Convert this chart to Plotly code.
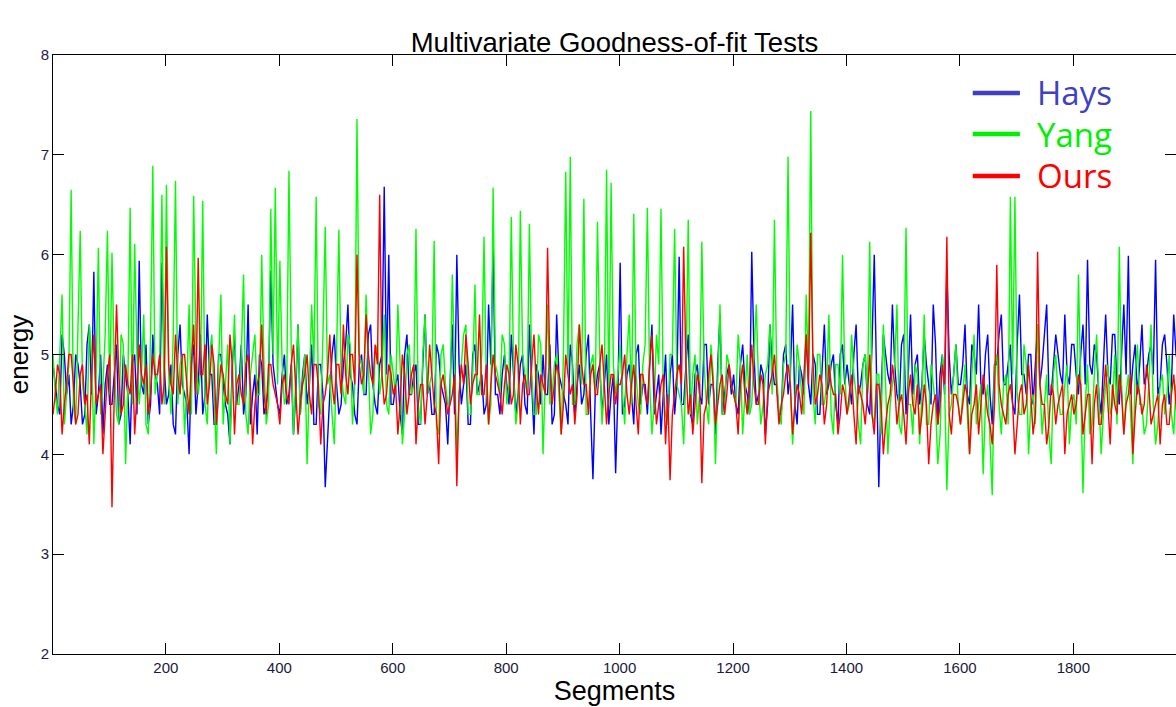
import plotly.graph_objects as go

# Samples: series A at segments 1, 9, 17, ... and series B at 5, 13, 21, ...
seg_a = list(range(1, 2000, 8))
seg_b = list(range(5, 2000, 8))

hays_a = [
    4.9, 4.5, 5.2, 4.6, 4.3, 5.0, 4.7, 4.4, 5.3, 5.83, 4.6, 4.2, 4.9, 4.5, 5.1, 4.4, 4.8, 4.1, 5.0, 5.94, 4.6, 4.3, 5.2, 4.7, 5.92,
    4.5, 4.9, 4.2, 5.3, 4.6, 4.0, 5.1, 4.7, 4.4, 5.4, 4.8, 4.3, 5.0, 4.5, 4.1, 5.2, 4.7, 4.4, 5.5, 4.6, 4.2, 4.9, 4.5, 5.84, 4.7,
    4.4, 5.0, 4.6, 4.2, 5.3, 4.8, 4.5, 5.1, 4.3, 4.9, 3.67, 4.6, 5.2, 4.4, 4.9, 5.5, 4.7, 4.3, 5.0, 4.6, 5.3, 4.5, 4.9, 6.68, 6.0,
    4.5, 4.8, 4.2, 5.2, 4.6, 4.9, 4.3, 5.4, 4.7, 4.4, 5.0, 4.6, 4.1, 5.3, 6.0, 4.5, 4.9, 4.3, 5.1, 4.7, 4.4, 5.5, 6.08, 4.6, 4.8,
    4.7, 5.2, 4.4, 4.9, 4.5, 5.3, 4.2, 4.8, 5.0, 4.6, 4.3, 5.4, 4.7, 4.5, 5.1, 4.4, 4.9, 4.6, 5.2, 3.75, 4.8, 4.4, 5.0, 4.6, 3.81,
    5.92, 4.5, 4.9, 4.3, 5.1, 4.7, 4.4, 5.3, 4.6, 4.2, 5.0, 4.8, 4.4, 5.98, 4.5, 5.2, 4.3, 4.9, 4.5, 5.1, 4.7, 4.2, 5.4, 4.6, 4.9,
    4.8, 4.4, 5.1, 4.6, 6.03, 4.5, 4.9, 4.2, 5.3, 4.7, 4.4, 5.0, 4.6, 5.5, 4.3, 4.8, 5.2, 4.5, 4.9, 4.4, 5.3, 4.7, 5.0, 4.3, 5.1,
    4.9, 4.5, 5.3, 4.7, 5.0, 4.4, 6.0, 3.67, 5.2, 4.8, 5.5, 4.6, 5.1, 4.4, 5.4, 4.9, 4.5, 5.2, 4.7, 5.5, 4.3, 5.0, 5.87, 4.6, 5.1,
    4.7, 5.3, 4.5, 5.0, 5.5, 4.6, 5.2, 4.3, 4.9, 5.4, 4.7, 5.1, 4.4, 5.6, 4.8, 5.0, 4.5, 5.3, 4.9, 5.5, 4.6, 5.2, 4.8, 5.4, 4.7,
    5.1, 4.6, 5.3, 5.95, 4.8, 5.0, 4.4, 5.4, 4.7, 5.2, 4.5, 5.5, 5.99, 4.9, 4.6, 5.3, 4.8, 5.1, 5.95, 4.7, 5.2, 4.5, 5.4, 4.9, 5.0,
]
hays_b = [
    4.7, 4.4, 5.0, 4.8, 4.5, 4.9, 4.3, 5.1, 4.6, 4.4, 5.0, 4.7, 4.5, 4.8, 4.3, 5.0, 4.6, 4.9, 4.4, 4.7, 5.1, 4.5, 4.8, 4.4, 4.9,
    4.6, 4.3, 5.0, 4.7, 4.5, 4.9, 4.4, 5.2, 4.6, 4.8, 4.3, 5.0, 4.7, 4.4, 4.9, 4.5, 5.1, 4.6, 4.3, 4.8, 5.0, 4.4, 4.7, 4.9, 4.5,
    4.8, 4.5, 4.9, 4.6, 4.4, 5.0, 4.7, 4.3, 4.9, 4.6, 4.2, 5.0, 4.7, 4.5, 5.1, 4.8, 4.4, 4.9, 4.6, 5.2, 4.7, 4.4, 5.0, 4.8, 4.5,
    4.7, 4.4, 5.0, 4.6, 4.8, 4.3, 4.9, 4.6, 4.4, 5.1, 4.7, 4.5, 4.8, 4.4, 4.9, 4.7, 4.3, 5.0, 4.6, 4.8, 4.5, 4.9, 4.6, 4.4, 5.0,
    4.5, 4.8, 4.6, 5.0, 4.4, 4.7, 4.9, 4.5, 4.6, 5.1, 4.4, 4.8, 4.6, 4.3, 4.9, 4.7, 4.5, 5.0, 4.4, 4.6, 4.9, 4.7, 4.3, 4.8, 4.6,
    4.4, 4.8, 4.6, 5.0, 4.5, 4.7, 4.9, 4.4, 4.8, 4.6, 4.3, 5.0, 4.7, 4.5, 4.9, 4.4, 4.8, 4.6, 5.1, 4.5, 4.7, 4.9, 4.4, 4.8, 4.6,
    4.5, 4.9, 4.7, 4.4, 5.0, 4.6, 4.8, 4.5, 4.9, 4.7, 4.4, 5.1, 4.8, 4.5, 4.9, 4.6, 4.7, 5.0, 4.4, 4.8, 4.6, 4.9, 4.5, 5.0, 4.7,
    4.7, 5.0, 4.6, 4.9, 4.5, 5.1, 4.8, 4.6, 5.0, 4.7, 4.9, 4.5, 5.2, 4.8, 4.6, 5.0, 4.7, 4.9, 4.5, 5.1, 4.8, 4.6, 5.0, 4.8, 4.7,
    4.9, 4.6, 5.1, 4.8, 4.7, 5.0, 4.6, 4.9, 5.2, 4.7, 4.9, 4.5, 5.1, 4.8, 4.6, 5.0, 4.9, 4.7, 5.2, 4.6, 4.9, 5.0, 4.7, 4.8, 5.1,
    4.8, 5.0, 4.7, 4.9, 5.1, 4.6, 4.9, 4.8, 5.2, 4.7, 5.0, 4.8, 4.6, 5.1, 4.9, 4.7, 5.0, 4.8, 4.6, 5.1, 4.9, 4.7, 5.0, 4.8, 4.9,
]

yang_a = [
    5.0, 4.4, 5.6, 4.6, 6.65, 4.3, 6.24, 4.5, 5.3, 4.1, 6.07, 4.7, 6.24, 6.02, 4.4, 5.2, 3.9, 6.47, 6.11, 4.5, 5.4, 4.2, 6.89, 4.8, 6.6,
    6.7, 4.4, 6.74, 4.9, 4.2, 5.5, 6.59, 4.6, 6.54, 4.3, 5.2, 4.0, 5.6, 4.7, 4.1, 5.4, 4.5, 5.8, 4.2, 5.0, 4.6, 6.0, 4.3, 6.46, 6.67,
    5.94, 4.5, 6.84, 4.2, 5.3, 4.7, 3.9, 5.5, 6.58, 4.4, 6.28, 4.8, 4.1, 6.25, 4.6, 5.2, 4.3, 7.36, 4.9, 5.6, 4.2, 5.0, 4.6, 5.4, 4.4,
    4.8, 5.5, 4.1, 5.0, 4.6, 6.26, 4.3, 5.4, 4.7, 6.14, 4.2, 5.1, 4.5, 5.8, 4.0, 4.9, 5.3, 4.4, 5.7, 4.6, 6.18, 4.3, 6.67, 4.8, 5.2,
    4.5, 6.38, 4.3, 6.44, 4.8, 6.31, 4.4, 5.2, 4.0, 5.5, 4.6, 5.0, 4.2, 6.83, 6.98, 4.5, 5.3, 6.56, 4.4, 5.0, 6.33, 4.3, 6.85, 6.72, 4.6,
    5.1, 4.3, 5.4, 6.41, 4.5, 4.9, 6.47, 4.2, 5.2, 6.46, 4.4, 5.0, 6.26, 4.6, 4.1, 6.35, 4.8, 4.3, 6.13, 4.5, 5.1, 3.9, 5.5, 4.4, 4.9,
    4.6, 5.2, 4.2, 5.0, 4.5, 5.5, 4.3, 4.8, 5.3, 6.35, 4.4, 4.9, 6.98, 4.1, 5.1, 4.6, 5.6, 7.44, 4.3, 5.0, 4.5, 5.4, 4.2, 4.9, 6.0,
    4.4, 5.2, 4.6, 4.1, 5.0, 6.13, 4.3, 4.8, 5.3, 4.0, 4.7, 5.5, 4.2, 6.27, 4.5, 4.9, 4.1, 5.4, 4.3, 4.7, 3.9, 5.0, 3.64, 4.5, 5.1,
    4.3, 4.9, 4.0, 5.2, 4.5, 3.8, 4.7, 3.59, 5.0, 4.2, 4.8, 6.58, 6.58, 4.4, 5.1, 4.0, 4.6, 5.3, 4.2, 4.8, 3.9, 5.0, 4.4, 4.7, 4.1,
    4.6, 5.8, 3.61, 4.9, 4.3, 5.2, 4.0, 4.7, 4.4, 5.0, 6.08, 4.2, 4.8, 3.9, 5.1, 4.5, 4.3, 5.3, 4.1, 4.7, 4.4, 5.0, 4.2, 4.6, 4.8,
]
yang_b = [
    4.6, 5.1, 4.3, 4.9, 4.5, 5.3, 4.7, 4.2, 5.0, 4.8, 4.4, 5.2, 4.6, 4.9, 4.3, 5.1, 4.7, 4.5, 5.0, 4.8, 4.3, 5.2, 4.6, 4.9, 4.5,
    4.8, 5.2, 4.5, 5.0, 4.7, 4.4, 5.1, 4.8, 4.5, 5.0, 4.6, 4.9, 4.3, 5.1, 4.7, 4.5, 5.0, 4.4, 4.8, 5.2, 4.6, 4.9, 4.5, 5.0, 4.7,
    4.9, 4.6, 5.1, 4.7, 4.4, 5.0, 4.6, 4.9, 4.5, 5.2, 4.7, 4.4, 5.0, 4.8, 4.5, 5.1, 4.7, 5.0, 4.6, 4.9, 4.4, 5.1, 4.8, 4.5, 5.0,
    4.6, 4.9, 4.4, 5.1, 4.7, 4.5, 5.0, 4.6, 4.8, 4.3, 5.0, 4.7, 4.5, 4.9, 4.6, 5.2, 4.4, 4.8, 4.6, 5.0, 4.7, 4.5, 4.9, 4.6, 5.1,
    4.7, 4.9, 4.5, 5.0, 4.6, 4.8, 4.4, 5.1, 4.7, 4.5, 4.9, 4.6, 5.0, 4.8, 4.5, 5.1, 4.7, 4.4, 4.9, 4.6, 5.0, 4.7, 4.5, 4.9, 4.8,
    4.6, 5.0, 4.5, 4.8, 4.4, 5.1, 4.7, 4.5, 4.9, 4.6, 4.3, 5.0, 4.7, 4.5, 4.8, 4.4, 5.0, 4.6, 4.9, 4.3, 4.8, 4.6, 4.4, 5.0, 4.7,
    4.5, 4.9, 4.6, 4.4, 5.0, 4.7, 4.5, 4.9, 4.6, 4.8, 4.3, 5.0, 4.7, 4.5, 4.9, 4.4, 4.8, 4.6, 5.0, 4.5, 4.7, 4.4, 4.9, 4.6, 4.8,
    4.5, 4.8, 4.3, 4.9, 4.6, 4.4, 4.8, 4.2, 4.7, 4.5, 4.9, 4.3, 4.7, 4.5, 4.2, 4.8, 4.6, 4.3, 4.9, 4.5, 4.2, 4.7, 4.4, 4.8, 4.5,
    4.6, 4.4, 4.8, 4.3, 4.7, 4.5, 4.2, 4.9, 4.5, 4.7, 4.3, 4.8, 4.6, 4.4, 4.9, 4.5, 4.3, 4.7, 4.5, 4.2, 4.8, 4.6, 4.4, 4.9, 4.5,
    4.3, 4.7, 4.5, 4.2, 4.8, 4.6, 4.4, 4.9, 4.5, 4.3, 4.7, 4.6, 4.4, 4.8, 4.5, 4.2, 4.7, 4.5, 4.3, 4.8, 4.6, 4.4, 4.7, 4.5, 4.6,
]

ours_a = [
    4.4, 4.9, 4.2, 4.7, 5.0, 4.3, 4.8, 4.5, 4.1, 5.2, 4.6, 4.0, 4.8, 3.47, 5.5, 4.4, 4.9, 4.6, 4.2, 5.1, 4.7, 4.4, 5.0, 4.8, 4.5,
    6.08, 4.7, 5.2, 4.6, 5.0, 4.4, 5.3, 5.97, 4.8, 4.5, 5.1, 4.3, 4.9, 4.6, 5.2, 4.2, 4.8, 4.5, 5.0, 4.1, 4.7, 5.3, 4.4, 4.9, 4.6,
    4.3, 4.8, 4.5, 5.1, 4.2, 4.7, 5.0, 4.4, 4.9, 4.1, 4.6, 5.2, 4.5, 4.9, 5.3, 4.6, 5.0, 6.0, 4.7, 5.4, 4.8, 5.1, 6.6, 4.5, 4.9,
    4.6, 4.2, 5.0, 4.4, 4.8, 4.1, 4.7, 4.3, 5.1, 4.5, 3.9, 4.8, 4.4, 4.6, 3.68, 4.9, 5.2, 4.5, 4.8, 5.4, 4.6, 4.3, 5.0, 4.7, 4.4,
    4.9, 4.5, 5.1, 4.3, 4.8, 4.6, 5.2, 4.4, 4.7, 6.07, 4.5, 4.9, 4.2, 5.0, 4.6, 4.3, 5.3, 4.7, 4.4, 4.9, 4.6, 5.1, 4.3, 4.8, 4.5,
    4.7, 5.0, 4.4, 4.9, 4.2, 4.8, 4.5, 5.2, 4.3, 4.7, 4.1, 3.74, 4.6, 4.9, 6.08, 4.4, 4.2, 4.8, 3.71, 4.5, 5.0, 4.3, 4.7, 4.4, 4.9,
    4.6, 4.2, 4.9, 4.4, 5.1, 4.5, 4.8, 4.1, 4.7, 5.0, 4.3, 4.6, 4.9, 4.2, 4.7, 4.4, 5.2, 6.22, 4.5, 4.8, 4.3, 4.9, 4.6, 4.2, 4.7,
    4.4, 4.8, 4.1, 4.6, 4.3, 5.0, 4.2, 4.7, 4.0, 4.5, 4.9, 4.3, 4.6, 4.1, 4.8, 4.4, 4.2, 4.7, 3.9, 4.5, 4.3, 4.9, 6.18, 4.2, 4.6,
    4.3, 4.7, 4.0, 4.5, 4.2, 4.8, 4.4, 4.1, 5.9, 4.5, 4.3, 4.7, 4.0, 4.6, 4.4, 4.9, 4.2, 6.03, 4.5, 4.1, 4.7, 4.3, 4.6, 4.0, 4.5,
    4.4, 4.8, 4.2, 4.6, 3.9, 4.7, 4.3, 4.9, 4.1, 4.5, 4.8, 4.2, 4.6, 4.0, 4.7, 4.4, 4.9, 4.3, 4.5, 4.1, 4.6, 4.3, 4.8, 4.2, 4.5,
]
ours_b = [
    4.6, 4.8, 4.5, 5.0, 4.7, 4.4, 4.9, 4.6, 4.8, 4.5, 4.7, 4.4, 5.0, 4.6, 4.8, 4.5, 4.7, 5.0, 4.6, 4.8, 4.9, 4.6, 4.8, 5.0, 4.7,
    4.9, 4.6, 4.8, 5.0, 4.7, 4.9, 4.6, 4.8, 5.1, 4.7, 4.9, 4.6, 4.8, 4.5, 4.9, 4.7, 4.6, 4.9, 4.7, 4.5, 4.8, 4.6, 4.9, 4.7, 4.5,
    4.7, 4.6, 4.9, 4.7, 4.5, 4.8, 4.6, 4.9, 4.7, 4.5, 4.8, 4.7, 4.9, 4.6, 4.8, 5.0, 4.7, 4.9, 4.8, 5.0, 4.7, 4.9, 4.8, 4.6, 4.8,
    4.7, 4.5, 4.8, 4.6, 4.9, 4.5, 4.7, 4.6, 4.8, 4.4, 4.7, 4.6, 4.5, 4.8, 4.6, 4.7, 4.9, 4.7, 4.8, 4.6, 4.9, 4.7, 4.8, 4.6, 4.7,
    4.8, 4.6, 4.9, 4.7, 4.6, 4.9, 4.7, 4.8, 4.6, 4.9, 4.7, 4.8, 4.5, 4.8, 4.7, 4.6, 4.9, 4.7, 4.8, 4.6, 4.9, 4.7, 4.6, 4.8, 4.7,
    4.8, 4.6, 4.7, 4.5, 4.8, 4.6, 4.9, 4.7, 4.5, 4.8, 4.6, 4.4, 4.8, 4.7, 4.9, 4.6, 4.5, 4.7, 4.4, 4.8, 4.7, 4.5, 4.8, 4.6, 4.7,
    4.5, 4.7, 4.6, 4.8, 4.7, 4.5, 4.7, 4.6, 4.8, 4.6, 4.5, 4.8, 4.7, 4.5, 4.6, 4.8, 4.7, 4.9, 4.6, 4.7, 4.5, 4.7, 4.6, 4.4, 4.6,
    4.6, 4.4, 4.7, 4.5, 4.6, 4.4, 4.7, 4.5, 4.3, 4.6, 4.7, 4.5, 4.4, 4.6, 4.5, 4.7, 4.4, 4.5, 4.3, 4.6, 4.5, 4.7, 4.4, 4.6, 4.5,
    4.5, 4.6, 4.4, 4.7, 4.5, 4.6, 4.3, 4.5, 4.7, 4.4, 4.6, 4.5, 4.3, 4.7, 4.5, 4.6, 4.4, 4.7, 4.5, 4.3, 4.6, 4.5, 4.7, 4.4, 4.6,
    4.5, 4.7, 4.4, 4.6, 4.5, 4.3, 4.6, 4.5, 4.7, 4.4, 4.6, 4.5, 4.8, 4.4, 4.6, 4.5, 4.7, 4.4, 4.6, 4.5, 4.3, 4.6, 4.5, 4.7, 4.4,
]

series_names = ["Hays", "Yang", "Ours"]
line_colors = ["rgb(0,0,255)", "rgb(0,255,0)", "rgb(255,0,0)"]
legend_colors = ["rgb(64,64,196)", "rgb(0,240,0)", "rgb(255,0,0)"]
x_ticks = [200, 400, 600, 800, 1000, 1200, 1400, 1600, 1800]
y_ticks = [2, 3, 4, 5, 6, 7, 8]


def merge(a_vals, b_vals):
    xs, ys = [], []
    for xa, va, xb, vb in zip(seg_a, a_vals, seg_b, b_vals):
        xs += [xa, xb]
        ys += [va, vb]
    return xs, ys


fig = go.Figure()
for name, a_vals, b_vals, col in zip(series_names, [hays_a, yang_a, ours_a],
                                     [hays_b, yang_b, ours_b], line_colors):
    xs, ys = merge(a_vals, b_vals)
    fig.add_trace(go.Scatter(x=xs, y=ys, mode="lines", name=name,
                             line=dict(color=col, width=1.4), showlegend=False))

# custom legend (large MATLAB-style legend)
leg_y = [0.9366, 0.868, 0.798]
for name, col, yy in zip(series_names, legend_colors, leg_y):
    fig.add_shape(type="line", xref="paper", yref="paper",
                  x0=0.819, x1=0.861, y0=yy, y1=yy,
                  line=dict(color=col, width=4.5))
    fig.add_annotation(xref="paper", yref="paper", x=0.874, y=yy,
                       text=name, showarrow=False, xanchor="left", yanchor="middle",
                       font=dict(family="Open Sans", size=33, color=col))

axis_common = dict(
    showline=True, linecolor="black", linewidth=1, mirror="ticks",
    ticks="inside", ticklen=11, tickcolor="black", showgrid=False, zeroline=False,
    automargin=False,
    tickfont=dict(family="Liberation Sans", size=15, color="#1a1a40"),
)

fig.update_layout(
    width=1176, height=707,
    margin=dict(l=53, r=0, t=55, b=53),
    paper_bgcolor="white", plot_bgcolor="white",
    title=dict(text="Multivariate Goodness-of-fit Tests", x=0.5, xref="paper",
               y=1 - 42 / 707, yref="container", yanchor="middle", xanchor="center",
               font=dict(family="Liberation Sans", size=27.5, color="black")),
    xaxis=dict(range=[1, 1981], tickvals=x_ticks, **axis_common,
               title=dict(text="Segments", standoff=2,
                          font=dict(family="Liberation Sans", size=27, color="black"))),
    yaxis=dict(range=[2, 8], tickvals=y_ticks, **axis_common,
               title=dict(text="energy", standoff=4,
                          font=dict(family="Liberation Sans", size=26, color="black"))),
    showlegend=False,
)

fig.write_html("out.html")
